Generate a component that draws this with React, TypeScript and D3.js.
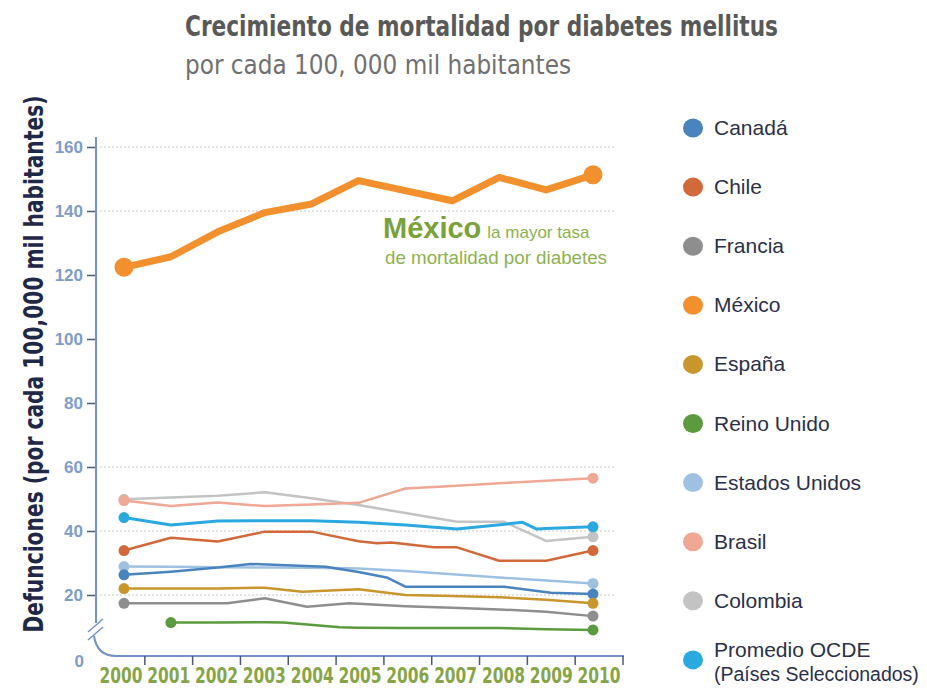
import React, { useEffect, useRef } from 'react';
import * as d3 from 'd3';

// values (deaths per 100,000); [year, value]
const canada: [number, number][] = [
  [2000, 26.3], [2001, 27.3], [2002, 28.6], [2002.7, 29.7], [2004.3, 28.8],
  [2005, 27.2], [2005.6, 25.5], [2006, 22.6], [2008.1, 22.6], [2009.1, 20.7], [2010, 20.3],
];
const chile: [number, number][] = [
  [2000, 33.9], [2001, 37.9], [2002, 36.7], [2003, 39.8], [2004, 39.8], [2005, 36.8],
  [2005.4, 36.2], [2005.7, 36.4], [2006.6, 34.9], [2007.1, 34.9], [2008, 30.7], [2009, 30.7], [2010, 33.9],
];
const francia: [number, number][] = [
  [2000, 17.4], [2001, 17.4], [2002.2, 17.4], [2003, 19.0], [2003.9, 16.3], [2004.8, 17.4],
  [2006, 16.5], [2007, 16.0], [2008, 15.5], [2009, 14.8], [2010, 13.4],
];
const mexico: [number, number][] = [
  [2000, 122.4], [2001, 125.7], [2002, 133.5], [2003, 139.5], [2004, 142.2], [2005, 149.5],
  [2007, 143.2], [2008, 150.5], [2009, 146.6], [2010, 151.3],
];
const espana: [number, number][] = [
  [2000, 22], [2001, 22], [2002, 22], [2003, 22.3], [2003.8, 21.0], [2005, 21.8],
  [2006, 20.0], [2007, 19.7], [2008, 19.3], [2009, 18.5], [2010, 17.4],
];
const reinoUnido: [number, number][] = [
  [2001, 11.4], [2002, 11.4], [2003, 11.5], [2003.4, 11.4], [2004.6, 9.9], [2005, 9.8],
  [2006, 9.7], [2007, 9.7], [2008, 9.7], [2009, 9.3], [2010, 9.1],
];
const estadosUnidos: [number, number][] = [
  [2000, 28.9], [2001, 28.8], [2002, 28.7], [2003, 28.6], [2004, 28.5], [2005, 28.3],
  [2006, 27.5], [2007, 26.5], [2008, 25.5], [2009, 24.5], [2010, 23.6],
];
const brasil: [number, number][] = [
  [2000, 49.5], [2001, 47.8], [2002, 48.9], [2003, 47.8], [2004, 48.3], [2005, 48.8],
  [2006, 53.3], [2007, 54.1], [2008, 54.9], [2009, 55.7], [2010, 56.5],
];
const colombia: [number, number][] = [
  [2000, 49.9], [2001, 50.5], [2002, 51.0], [2003, 52.1], [2004, 50.2], [2005, 48.1],
  [2006, 45.6], [2007.1, 42.9], [2008.1, 42.9], [2009, 36.9], [2010, 38.2],
];
const ocde: [number, number][] = [
  [2000, 44.2], [2001, 41.9], [2002, 43.1], [2003, 43.2], [2004, 43.2], [2005, 42.7],
  [2006, 41.9], [2007.1, 40.6], [2008.5, 42.7], [2008.8, 40.6], [2009, 40.8], [2010, 41.3],
];

const seriesNames = ['Canadá', 'Chile', 'Francia', 'México', 'España', 'Reino Unido',
  'Estados Unidos', 'Brasil', 'Colombia', 'Promedio OCDE'];
const seriesData = [canada, chile, francia, mexico, espana, reinoUnido, estadosUnidos, brasil, colombia, ocde];
const seriesColors = ['#4a84bf', '#d2693a', '#8e8e8e', '#f3902e', '#c8962b', '#5b9a3d',
  '#9fc1e1', '#efa796', '#c3c3c3', '#2aa9e0'];

const years = d3.range(2000, 2011);
const yTicks = [20, 40, 60, 80, 100, 120, 140, 160];
const gridValues = [20, 40, 60, 140, 160];

const App = () => {
  const ref = useRef<SVGSVGElement | null>(null);

  useEffect(() => {
    document.body.style.margin = '0';
    const svg = d3.select(ref.current);
    svg.selectAll('*').remove();

    const narrow = "'Liberation Sans Narrow', 'DejaVu Sans Condensed', 'Liberation Sans', sans-serif";
    const sans = "'Liberation Sans', Arial, sans-serif";
    const axisColor = '#7393c9';

    const x = d3.scaleLinear().domain([2000, 2010]).range([124, 593]);
    const y = d3.scaleLinear().domain([20, 160]).range([595, 147]);
    const xBand = d3.scaleBand<number>().domain(years).range([97, 623]);
    const axisY = 656;

    // titles
    svg.append('text').attr('x', 185).attr('y', 36)
      .attr('font-family', narrow).attr('font-weight', 'bold').attr('font-size', 28)
      .attr('fill', '#595959').attr('textLength', 593).attr('lengthAdjust', 'spacingAndGlyphs')
      .text('Crecimiento de mortalidad por diabetes mellitus');
    svg.append('text').attr('x', 185).attr('y', 74)
      .attr('font-family', narrow).attr('font-size', 26)
      .attr('fill', '#707070').attr('textLength', 386).attr('lengthAdjust', 'spacingAndGlyphs')
      .text('por cada 100, 000 mil habitantes');

    // y title
    svg.append('text')
      .attr('transform', `translate(43, 364) rotate(-90)`)
      .attr('text-anchor', 'middle')
      .attr('font-family', narrow).attr('font-weight', 'bold').attr('font-size', 26)
      .attr('fill', '#1f2847').attr('textLength', 537).attr('lengthAdjust', 'spacingAndGlyphs')
      .text('Defunciones (por cada 100,000 mil habitantes)');

    // grid
    svg.append('g').selectAll('line').data(gridValues).enter().append('line')
      .attr('x1', 100).attr('x2', 616)
      .attr('y1', (d) => y(d)).attr('y2', (d) => y(d))
      .attr('stroke', '#c9c9c9').attr('stroke-width', 1).attr('stroke-dasharray', '2,2');

    // y axis
    const yAxis = d3.axisLeft(y).tickValues(yTicks).tickSize(9).tickPadding(4);
    const gy = svg.append('g').attr('transform', 'translate(96,0)').call(yAxis);
    gy.select('.domain').remove();
    gy.selectAll('.tick line').attr('stroke', '#4a5a78').attr('stroke-width', 1.5);
    gy.selectAll('.tick text')
      .attr('font-family', sans).attr('font-weight', 'bold').attr('font-size', 17)
      .attr('fill', '#7d9dcb');
    svg.append('line').attr('x1', 96).attr('x2', 96).attr('y1', 137).attr('y2', 623)
      .attr('stroke', axisColor).attr('stroke-width', 2);

    // axis break and curve into the x axis
    svg.append('line').attr('x1', 88).attr('y1', 632).attr('x2', 103).attr('y2', 619)
      .attr('stroke', axisColor).attr('stroke-width', 1.5);
    svg.append('line').attr('x1', 88).attr('y1', 640).attr('x2', 103).attr('y2', 627)
      .attr('stroke', axisColor).attr('stroke-width', 1.5);
    svg.append('path')
      .attr('d', `M94,636 Q97,${axisY} 116,${axisY} L624,${axisY}`)
      .attr('fill', 'none').attr('stroke', axisColor).attr('stroke-width', 2);
    svg.append('text').attr('x', 84).attr('y', 667).attr('text-anchor', 'end')
      .attr('font-family', sans).attr('font-weight', 'bold').attr('font-size', 17)
      .attr('fill', '#7d9dcb').text('0');

    // x ticks at band boundaries
    const tickX = years.slice(1).map((yr) => xBand(yr) as number).concat([xBand.range()[1]]);
    svg.append('g').selectAll('line').data(tickX).enter().append('line')
      .attr('x1', (d) => d).attr('x2', (d) => d)
      .attr('y1', axisY).attr('y2', axisY + 9)
      .attr('stroke', '#4a5a78').attr('stroke-width', 1.5);
    svg.append('g').selectAll('text').data(years).enter().append('text')
      .attr('x', (d) => (xBand(d) as number) + xBand.bandwidth() / 2)
      .attr('y', 683).attr('text-anchor', 'middle')
      .attr('font-family', narrow).attr('font-weight', 'bold').attr('font-size', 21)
      .attr('textLength', 43).attr('lengthAdjust', 'spacingAndGlyphs')
      .attr('fill', '#87a548').text((d) => d);

    // lines
    const line = d3.line<[number, number]>().x((d) => x(d[0])).y((d) => y(d[1]));
    const order = [8, 7, 6, 0, 4, 2, 5, 1, 9, 3];
    order.forEach((i) => {
      const isMex = seriesNames[i] === 'México';
      const data = seriesData[i];
      svg.append('path').datum(data)
        .attr('fill', 'none').attr('stroke', seriesColors[i])
        .attr('stroke-width', isMex ? 7 : i === 9 ? 3 : 2.5)
        .attr('stroke-linejoin', 'round')
        .attr('d', line);
      svg.append('g').selectAll('circle').data([data[0], data[data.length - 1]]).enter()
        .append('circle')
        .attr('cx', (d) => x(d[0])).attr('cy', (d) => y(d[1]))
        .attr('r', isMex ? 9.5 : 5.5).attr('fill', seriesColors[i]);
    });

    // annotation
    const note = svg.append('text').attr('x', 383).attr('y', 238).attr('font-family', sans);
    note.append('tspan').attr('font-weight', 'bold').attr('font-size', 29).attr('fill', '#79a23a')
      .text('México');
    note.append('tspan').attr('dx', 6).attr('font-size', 17).attr('fill', '#8db150')
      .text('la mayor tasa');
    svg.append('text').attr('x', 385).attr('y', 264).attr('font-family', sans)
      .attr('font-size', 18).attr('fill', '#8db150').attr('textLength', 222)
      .attr('lengthAdjust', 'spacingAndGlyphs').text('de mortalidad por diabetes');

    // legend
    const legend = svg.append('g');
    seriesNames.forEach((name, i) => {
      const cy = 128 + i * 59.1;
      legend.append('ellipse').attr('cx', 693).attr('cy', cy).attr('rx', 10).attr('ry', 9.5)
        .attr('fill', seriesColors[i]);
      const t = legend.append('text').attr('x', 714).attr('y', cy + 7)
        .attr('font-family', sans).attr('font-size', 21).attr('fill', '#2b3048');
      if (name === 'Promedio OCDE') {
        t.attr('y', cy - 3);
        t.append('tspan').attr('x', 714).text(name);
        t.append('tspan').attr('x', 714).attr('dy', 24).attr('font-size', 19.5)
          .text('(Países Seleccionados)');
      } else {
        t.text(name);
      }
    });
  }, []);

  return <svg ref={ref} width={927} height={688} style={{ display: 'block', background: '#fff' }} />;
};

export default App;
